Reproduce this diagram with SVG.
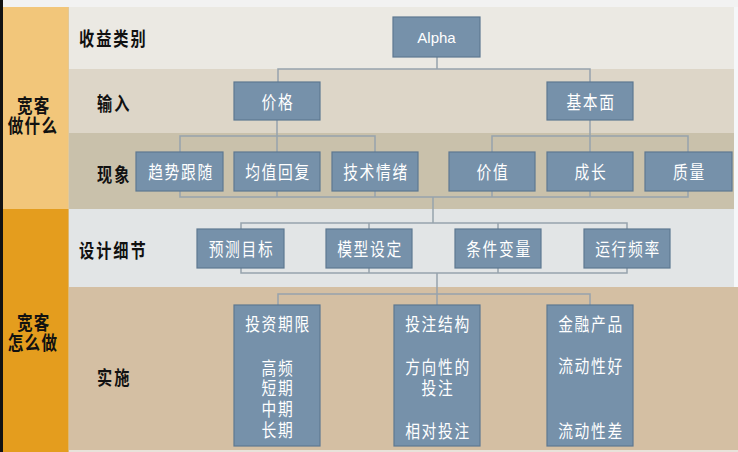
<svg xmlns="http://www.w3.org/2000/svg" width="738" height="452" viewBox="0 0 738 452">
<style>
.node rect{fill:#7691aa;stroke:#5e7891;stroke-width:1.2}
.nt{fill:#ffffff;font-family:"Noto Sans CJK SC","Noto Sans",sans-serif;font-size:18px;letter-spacing:2px;text-anchor:middle;dominant-baseline:central}
.lt{fill:#111111;font-family:"Noto Sans CJK SC","Noto Sans",sans-serif;font-size:19px;font-weight:bold;letter-spacing:2.5px;dominant-baseline:central}
.ct{fill:#111111;font-family:"Noto Sans CJK SC","Noto Sans",sans-serif;font-size:19px;font-weight:bold;letter-spacing:1.5px;text-anchor:middle;dominant-baseline:central}
.alpha{fill:#ffffff;font-family:"Liberation Sans",Arial,sans-serif;font-size:15px;text-anchor:middle;dominant-baseline:central}
#connectors path{fill:none;stroke:#96a3ad;stroke-width:1.5}
</style>
<!-- background bands -->
<rect x="0" y="0" width="738" height="452" fill="#f2f2f2"/>
<rect x="0" y="0" width="3" height="452" fill="#121212"/>
<rect x="734" y="7" width="4" height="280" fill="#f5f7f9"/>
<rect x="69" y="7" width="665" height="62" fill="#ebe9e3"/>
<rect x="69" y="69" width="665" height="64" fill="#ddd6c8"/>
<rect x="69" y="133" width="665" height="76" fill="#c9c1ab"/>
<rect x="69" y="209" width="665" height="78" fill="#e2e5e6"/>
<rect x="69" y="287" width="669" height="163" fill="#d4bfa3"/>
<rect x="69" y="450" width="669" height="2" fill="#e8e2da"/>
<rect x="3" y="7" width="66" height="202" fill="#f2c67a"/>
<rect x="3" y="209" width="66" height="243" fill="#e49d1e"/>
<rect x="68" y="7" width="1" height="445" fill="#d9c9a8" opacity="0.6"/>

<!-- left column labels -->
<g id="col-what">
<text class="ct" transform="translate(33,0) scale(0.82,1)"><tspan x="1" y="104">宽客</tspan><tspan x="0" y="124">做什么</tspan></text>
</g>
<g id="col-how">
<text class="ct" transform="translate(33,0) scale(0.82,1)"><tspan x="1" y="321">宽客</tspan><tspan x="0" y="341">怎么做</tspan></text>
</g>

<!-- row labels -->
<g id="row-labels">
<text class="lt" transform="translate(79,38) scale(0.8,1)">收益类别</text>
<text class="lt" transform="translate(97,103) scale(0.8,1)">输入</text>
<text class="lt" transform="translate(97,174) scale(0.8,1)">现象</text>
<text class="lt" transform="translate(79,250) scale(0.8,1)">设计细节</text>
<text class="lt" transform="translate(97,377) scale(0.8,1)">实施</text>
</g>

<!-- connectors -->
<g id="connectors">
<path d="M437 57V69M278 82V69H590V82"/>
<path d="M277 120V136M180 152V136H375V152M277 136V152"/>
<path d="M590 120V136M492 152V136H688V152M590 136V152"/>
<path d="M180 191V197H688V191M277 191V197M375 191V197M492 191V197M590 191V197"/>
<path d="M433 197V223"/>
<path d="M241 229V223H627V229M369 223V229M498 223V229"/>
<path d="M241 268V273H627V268M369 268V273M498 268V273"/>
<path d="M437 273V294M278 305V294H590V305M437 294V305"/>
</g>

<!-- nodes -->
<g id="n-alpha" class="node"><rect x="393" y="17" width="87" height="40"/><text class="alpha" x="436.5" y="37">Alpha</text></g>
<g id="n-price" class="node"><rect x="234" y="82" width="86" height="38"/><text class="nt" transform="translate(278,101) scale(0.82,1)">价格</text></g>
<g id="n-fund" class="node"><rect x="547" y="82" width="86" height="38"/><text class="nt" transform="translate(591,101) scale(0.82,1)">基本面</text></g>

<g id="n-trend" class="node"><rect x="136" y="152" width="87" height="39"/><text class="nt" transform="translate(181,171.5) scale(0.82,1)">趋势跟随</text></g>
<g id="n-mean" class="node"><rect x="234" y="152" width="86" height="39"/><text class="nt" transform="translate(278,171.5) scale(0.82,1)">均值回复</text></g>
<g id="n-tech" class="node"><rect x="332" y="152" width="86" height="39"/><text class="nt" transform="translate(376,171.5) scale(0.82,1)">技术情绪</text></g>
<g id="n-value" class="node"><rect x="449" y="152" width="86" height="39"/><text class="nt" transform="translate(493,171.5) scale(0.82,1)">价值</text></g>
<g id="n-growth" class="node"><rect x="547" y="152" width="86" height="39"/><text class="nt" transform="translate(591,171.5) scale(0.82,1)">成长</text></g>
<g id="n-quality" class="node"><rect x="645" y="152" width="87" height="39"/><text class="nt" transform="translate(689.5,171.5) scale(0.82,1)">质量</text></g>

<g id="n-target" class="node"><rect x="197" y="229" width="87" height="39"/><text class="nt" transform="translate(241.5,248.5) scale(0.82,1)">预测目标</text></g>
<g id="n-model" class="node"><rect x="326" y="229" width="86" height="39"/><text class="nt" transform="translate(370,248.5) scale(0.82,1)">模型设定</text></g>
<g id="n-cond" class="node"><rect x="455" y="229" width="86" height="39"/><text class="nt" transform="translate(499,248.5) scale(0.82,1)">条件变量</text></g>
<g id="n-freq" class="node"><rect x="584" y="229" width="86" height="39"/><text class="nt" transform="translate(628,248.5) scale(0.82,1)">运行频率</text></g>

<g id="n-horizon" class="node"><rect x="234" y="305" width="86" height="141"/>
<text class="nt" transform="translate(278,323) scale(0.82,1)">投资期限</text>
<text class="nt" transform="translate(278,0) scale(0.82,1)"><tspan x="0" y="367">高频</tspan><tspan x="0" y="387.5">短期</tspan><tspan x="0" y="408">中期</tspan><tspan x="0" y="429">长期</tspan></text>
</g>
<g id="n-bet" class="node"><rect x="394" y="305" width="86" height="141"/>
<text class="nt" transform="translate(438,323) scale(0.82,1)">投注结构</text>
<text class="nt" transform="translate(438,0) scale(0.82,1)"><tspan x="0" y="366">方向性的</tspan><tspan x="0" y="387">投注</tspan></text>
<text class="nt" transform="translate(438,430) scale(0.82,1)">相对投注</text>
</g>
<g id="n-product" class="node"><rect x="547" y="305" width="86" height="141"/>
<text class="nt" transform="translate(591,323) scale(0.82,1)">金融产品</text>
<text class="nt" transform="translate(591,365) scale(0.82,1)">流动性好</text>
<text class="nt" transform="translate(591,430) scale(0.82,1)">流动性差</text>
</g>
</svg>
